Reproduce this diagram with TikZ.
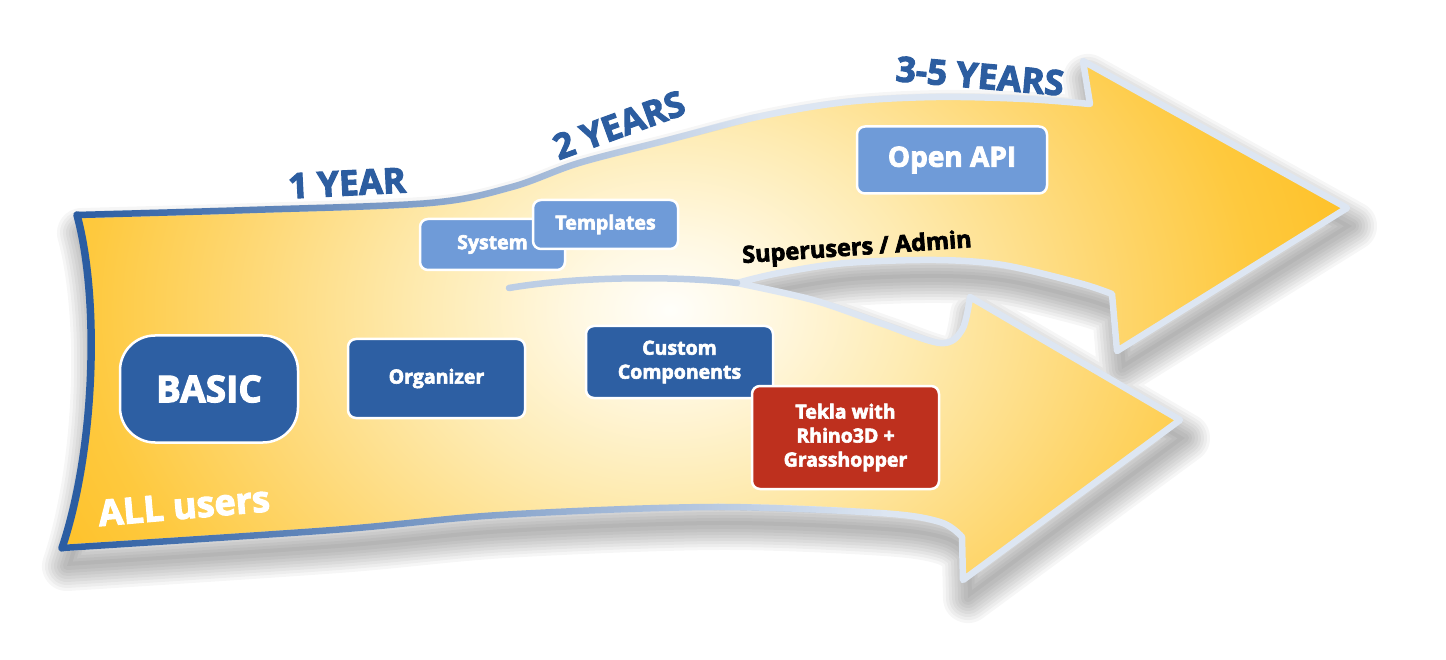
\documentclass[tikz,border=0pt]{standalone}
\usepackage{fontspec}
\setmainfont{Open Sans}[BoldFeatures={FakeBold=3}]
\usetikzlibrary{fadings}
\definecolor{darkblue}{HTML}{2D5FA3}
\definecolor{lightblue}{HTML}{6F9BD8}
\definecolor{tekred}{HTML}{BE301E}
\definecolor{textblue}{HTML}{2C5DA0}
\definecolor{edgedark}{HTML}{2B5DA2}
\definecolor{edgepale}{HTML}{DDE6F2}
\definecolor{edgemid}{HTML}{BDCEE5}
\definecolor{g0}{HTML}{FFFEFA}
\definecolor{g1}{HTML}{FFF8E2}
\definecolor{g2}{HTML}{FEEBB2}
\definecolor{g3}{HTML}{FED771}
\definecolor{g4}{HTML}{FEC93E}
\definecolor{g5}{HTML}{FEC22B}
\pgfdeclareradialshading{glow}{\pgfpoint{0bp}{0bp}}{color(0bp)=(g0); color(3.5bp)=(g1); color(9bp)=(g2); color(16bp)=(g3); color(21.5bp)=(g4); color(25bp)=(g5); color(50bp)=(g5)}
\tikzfading[name=fadeoutright, left color=transparent!0, right color=transparent!100]
\def\mainpath{(62,548) .. controls (95,450) and (100,300) .. (77,215)
 -- plot[smooth, tension=0.55] coordinates {(77,215) (250,210) (430,203) (512,187) (579,163) (668,140) (757,117) (846,102) (936,97) (1025,99) (1090,104)}
 -- (1083,61) -- (1347,208) -- (1117,351) -- (1112,294)
 -- plot[smooth, tension=0.55] coordinates {(1112,294) (1079,283) (1003,265) (936,260) (846,263) (779,273) (737,283)}
 -- plot[smooth, tension=0.55] coordinates {(737,283) (813,300) (880,323) (940,343) (962,330) (970,297)}
 -- (1180,420) -- (963,580) -- (962,537)
 -- plot[smooth, tension=0.55] coordinates {(962,537) (940,522) (880,513) (713,507) (500,515) (333,530) (62,548)}
 -- cycle}
\tikzset{
  box/.style={draw=white, line width=2.5pt, rounded corners=8pt, text=white,
    font=\bfseries\fontsize{19.5}{24}\selectfont, align=center, inner sep=0pt},
  darkbox/.style={box, fill=darkblue},
  lightbox/.style={box, fill=lightblue},
  tekbox/.style={box, fill=tekred},
  yearlabel/.style={text=textblue, font=\bfseries\fontsize{35}{40}\selectfont, inner sep=0pt},
  edgeline/.style={line width=6.5pt, line cap=round, line join=round}
}
\begin{document}
\begin{tikzpicture}[x=1pt,y=-1pt]
\useasboundingbox[fill=white] (0,0) rectangle (1446,660);
% soft shadow
\begin{scope}[shift={(5,18)}]
  \foreach \w in {50,44,38,32,26,20,14,8}
    \draw[black, opacity=0.035, line width=\w pt, line join=round] \mainpath;
  \fill[black, opacity=0.035] \mainpath;
\end{scope}
% fill
\fill[g5] \mainpath;
\begin{scope}
  \clip \mainpath;
  \shade[shading=glow] (670,310) ellipse [x radius=680, y radius=520];
\end{scope}
% outline
\draw[edgepale, edgeline] \mainpath;
\coordinate (junction) at (737,283);
\coordinate (innerend) at (509,288);
\draw[edgemid, edgeline] (innerend) .. controls (580,276) and (680,276) .. (junction);
\draw[edgedark, edgeline, line width=7.5pt] (62,548) .. controls (95,450) and (100,300) .. (77,215);
\draw[edgedark, edgeline, path fading=fadeoutright]
  plot[smooth, tension=0.55] coordinates {(77,215) (250,210) (430,203) (512,187) (579,163) (668,140) (757,117)};
\draw[edgedark, edgeline, path fading=fadeoutright]
  plot[smooth, tension=0.55] coordinates {(62,548) (333,530) (500,515) (713,507) (880,513)};
% labels
\node[yearlabel, rotate=3] (y1) at (347,183) {1 YEAR};
\node[yearlabel, rotate=20] (y2) at (619,125) {2 YEARS};
\node[yearlabel, rotate=-5] (y35) at (980,76) {3-5 YEARS};
\node[rotate=4, inner sep=0pt, text=black, font=\bfseries\fontsize{23.5}{28}\selectfont] (su) at (857,249) {Superusers / Admin};
\node[rotate=5, inner sep=0pt, text=white, font=\bfseries\fontsize{36}{40}\selectfont] (all) at (184,506) {ALL users};
% boxes
\node[darkbox, rounded corners=35pt, minimum width=178pt, minimum height=107pt, font=\bfseries\fontsize{37}{40}\selectfont] (basic) at (209,389) {BASIC};
\node[darkbox, minimum width=177pt, minimum height=79pt] (org) at (436.5,378.5) {Organizer};
\node[darkbox, minimum width=187pt, minimum height=72pt] (cc) at (679.5,362) {Custom\\Components};
\node[tekbox, minimum width=187pt, minimum height=103pt] (tekla) at (845.5,437.5) {Tekla with\\Rhino3D +\\Grasshopper};
\node[lightbox, minimum width=145pt, minimum height=51pt] (sys) at (492.5,244.5) {System};
\node[lightbox, minimum width=145pt, minimum height=49pt] (tpl) at (605.5,224.5) {Templates};
\node[lightbox, minimum width=190pt, minimum height=67pt, font=\bfseries\fontsize{28}{32}\selectfont] (api) at (952,160) {Open API};
\end{tikzpicture}
\end{document}
